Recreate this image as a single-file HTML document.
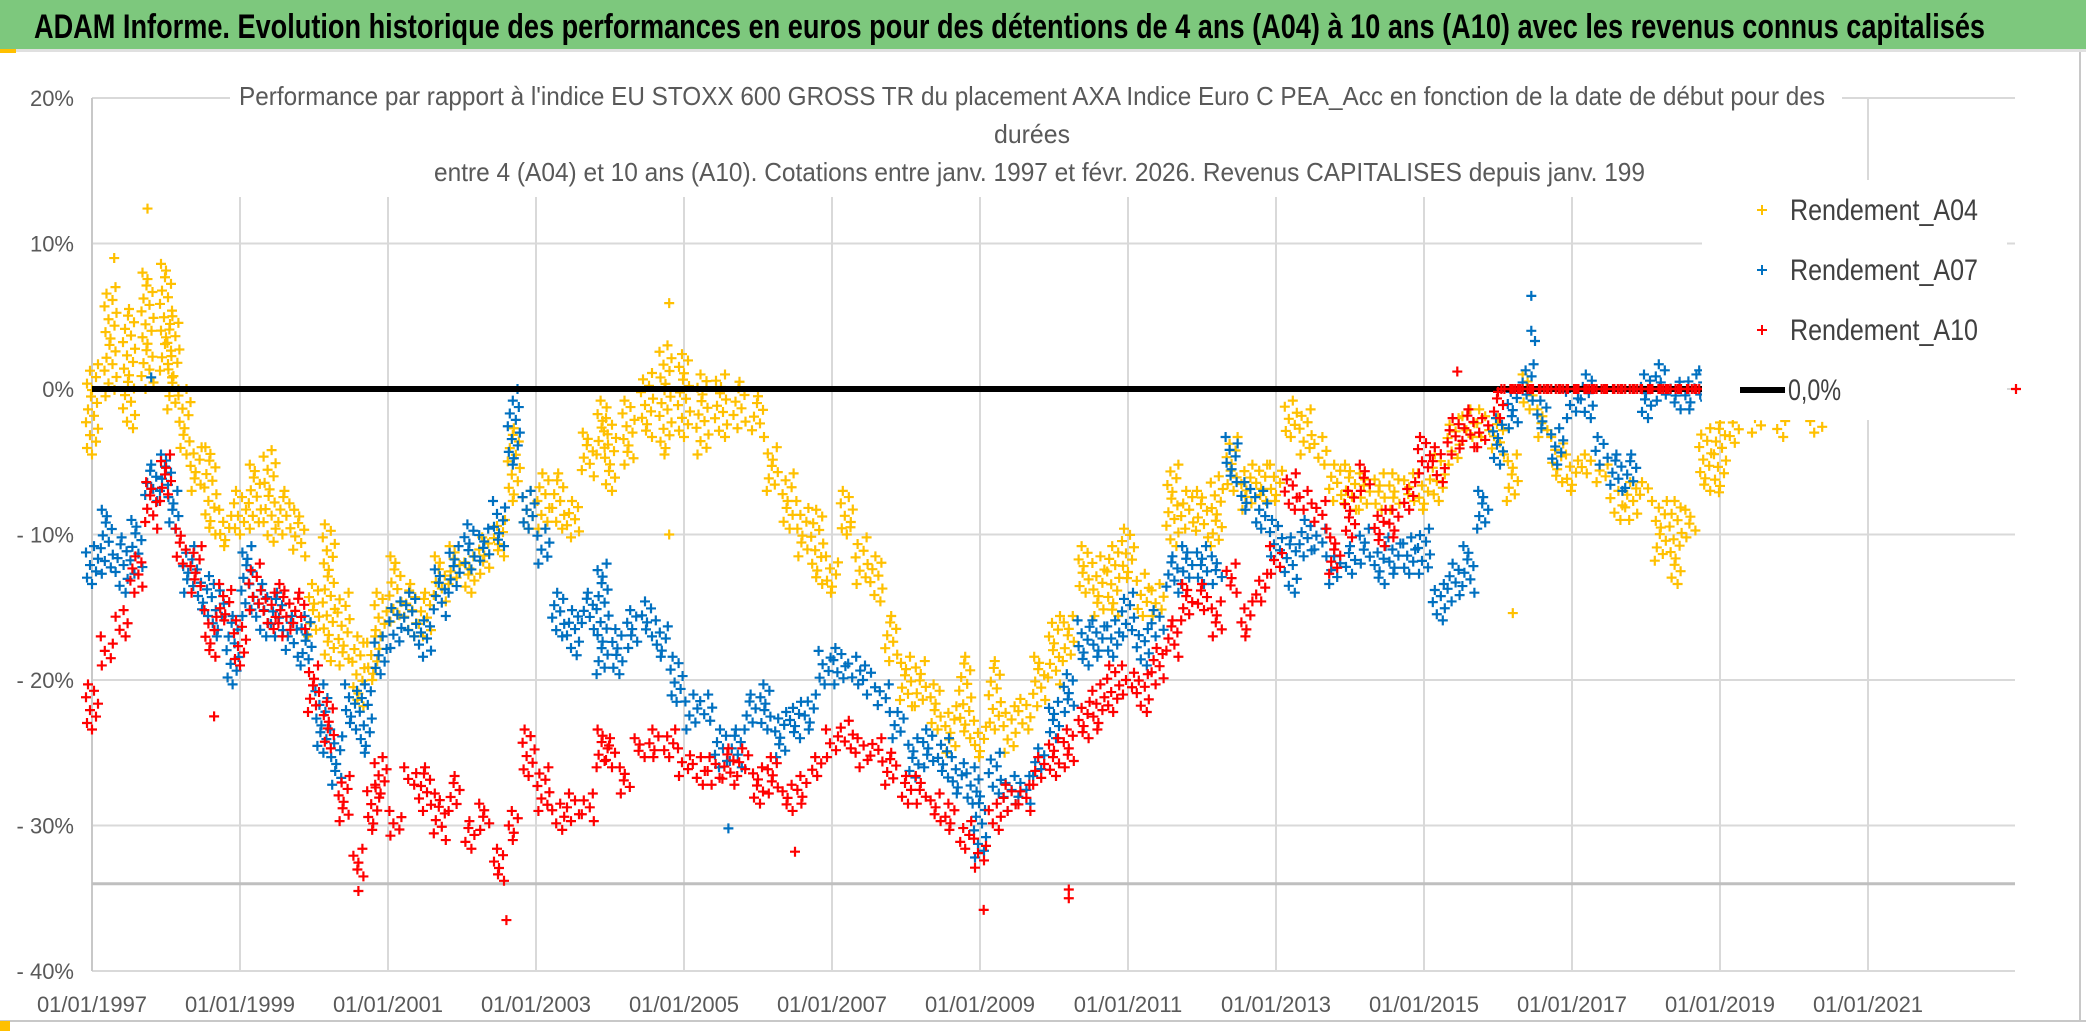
<!DOCTYPE html>
<html><head><meta charset="utf-8"><style>
html,body{margin:0;padding:0;background:#fff;}
svg{display:block;}
text{font-family:"Liberation Sans",sans-serif;}
</style></head><body>
<svg id="chart" width="2086" height="1031" viewBox="0 0 2086 1031">
<rect x="0" y="0" width="2086" height="1031" fill="#fff"/>
<rect x="0" y="0" width="2086" height="49" fill="#7dc87d"/>
<rect x="0" y="49" width="2086" height="3" fill="#e0e0e0"/>
<rect x="0" y="49" width="16" height="4" fill="#ffc000"/>
<text x="34" y="38" font-size="34" font-weight="bold" fill="#000" textLength="1951" lengthAdjust="spacingAndGlyphs">ADAM Informe. Evolution historique des performances en euros pour des détentions de 4 ans (A04) à 10 ans (A10) avec les revenus connus capitalisés</text>
<line x1="2080" y1="52" x2="2080" y2="1020" stroke="#c8c8c8" stroke-width="2"/>
<line x1="0" y1="1021" x2="2086" y2="1021" stroke="#c8c8c8" stroke-width="2"/>
<rect x="0" y="1021" width="10" height="10" fill="#ffc000"/>
<g id="grid"></g>
<g id="marks"></g>
<rect x="230" y="70" width="1612" height="127" fill="#fff"/>
<text x="239" y="105" font-size="26" fill="#595959" textLength="1586" lengthAdjust="spacingAndGlyphs">Performance par rapport à l'indice EU STOXX 600 GROSS TR  du placement AXA Indice Euro C PEA_Acc en fonction de la date de début pour des</text>
<text x="1032" y="143" font-size="26" fill="#595959" text-anchor="middle" textLength="76" lengthAdjust="spacingAndGlyphs">durées</text>
<text x="434" y="181" font-size="26" fill="#595959" textLength="1211" lengthAdjust="spacingAndGlyphs">entre 4 (A04) et 10 ans (A10). Cotations entre janv. 1997 et févr. 2026. Revenus CAPITALISES depuis janv. 199</text>
<g id="legend">
<rect x="1702" y="180" width="305" height="240" fill="#fff"/>
<g><path d="M1757 210h10M1762 205v10" stroke="#ffc000" stroke-width="2"/><text x="1790" y="220" font-size="30" fill="#404040" textLength="188" lengthAdjust="spacingAndGlyphs">Rendement_A04</text></g>
<g><path d="M1757 270h10M1762 265v10" stroke="#0070c0" stroke-width="2"/><text x="1790" y="280" font-size="30" fill="#404040" textLength="188" lengthAdjust="spacingAndGlyphs">Rendement_A07</text></g>
<g><path d="M1757 330h10M1762 325v10" stroke="#ff0000" stroke-width="2"/><text x="1790" y="340" font-size="30" fill="#404040" textLength="188" lengthAdjust="spacingAndGlyphs">Rendement_A10</text></g>
<g><line x1="1740" y1="390" x2="1785" y2="390" stroke="#000" stroke-width="6"/><text x="1788" y="400" font-size="30" fill="#404040" textLength="53" lengthAdjust="spacingAndGlyphs">0,0%</text></g>
</g>
</svg>
<script>
// axis config (data)
const yTicks = [20, 10, 0, -10, -20, -30, -40];
const yTickLabels = ["20%", "10%", "0%", "- 10%", "- 20%", "- 30%", "- 40%"];
const xTickYears = [1997,1999,2001,2003,2005,2007,2009,2011,2013,2015,2017,2019,2021];
const xTickLabels = ["01/01/1997","01/01/1999","01/01/2001","01/01/2003","01/01/2005","01/01/2007","01/01/2009","01/01/2011","01/01/2013","01/01/2015","01/01/2017","01/01/2019","01/01/2021"];
const refLineValue = -34;
const zeroLineValue = 0;

// A04 : [year, low %, high %]
const a04Years = [1997.0,1997.25,1997.5,1997.75,1998.0,1998.1,1998.25,1998.4,1998.6,1998.8,1999.0,1999.2,1999.4,1999.6,1999.8,2000.0,2000.2,2000.4,2000.6,2000.8,2000.9,2001.1,2001.3,2001.5,2001.7,2001.9,2002.1,2002.3,2002.5,2002.7,2002.9,2003.1,2003.3,2003.5,2003.7,2003.9,2004.0,2004.25,2004.5,2004.75,2005.0,2005.25,2005.5,2005.75,2006.0,2006.2,2006.4,2006.6,2006.8,2007.0,2007.2,2007.4,2007.6,2007.8,2008.0,2008.2,2008.4,2008.6,2008.8,2009.0,2009.2,2009.4,2009.6,2009.8,2010.0,2010.2,2010.4,2010.6,2010.8,2011.0,2011.2,2011.4,2011.6,2011.8,2012.0,2012.2,2012.4,2012.6,2012.8,2013.0,2013.2,2013.4,2013.6,2013.8,2014.0,2014.2,2014.4,2014.6,2014.8,2015.0,2015.2,2015.4,2015.6,2015.8,2016.0,2016.2,2016.4,2016.6,2016.8,2017.0,2017.2,2017.4,2017.6,2017.8,2018.0,2018.2,2018.4,2018.6,2018.8,2019.0,2019.2,2019.5,2019.8,2020.3];
const a04Low = [-4.5,-0.5,-2.7,0,0.8,-1.4,-4.5,-7,-10,-10.8,-10,-9.6,-10.5,-10,-11.5,-17,-18.7,-19,-21.8,-20,-17,-16,-17,-17,-14.6,-13.4,-14,-12.7,-11.5,-7.7,-9.6,-9.6,-9.6,-10.2,-6,-4.5,-7,-5.2,-3.3,-4.5,-3.3,-4.5,-3.3,-2.7,-3.3,-7,-9.6,-11.5,-13.4,-14,-10,-13.4,-14.6,-18.7,-21.8,-21.8,-23.4,-25,-24,-25.3,-23.4,-25,-23.4,-21.8,-20.3,-18.7,-14,-15.6,-15.6,-13,-15.6,-15.6,-10.8,-9.6,-10.2,-10.8,-7,-8.3,-7.7,-7.7,-3.3,-4.5,-5.2,-7.7,-8.3,-8.3,-8.3,-8.3,-7.7,-8.3,-7.7,-5.2,-3.3,-3.3,-4.5,-7.7,-1.4,-3.3,-6.4,-7,-5.8,-6.4,-9,-9,-7.7,-11.8,-13.4,-10.2,-7,-7.1,-3.7,-3,-3.3,-3];
const a04High = [1.7,7,5.5,8,8.6,5,0,-4,-4,-8.3,-7,-5.2,-4.2,-7,-8.3,-13.4,-9.3,-14,-17,-17,-14,-11.5,-13.4,-14,-11.5,-10.8,-11.5,-10.2,-9,-2.7,-7,-5.8,-5.8,-7.7,-3,-0.8,-2,-0.8,1.1,3,2.4,1,1,0.5,-0.5,-4,-5.8,-7.7,-8.3,-11.5,-7,-10.2,-11.5,-15.6,-18.4,-18.7,-20.3,-21.8,-18.4,-22.8,-18.7,-21.8,-21.3,-18.4,-15.6,-15.6,-10.8,-11.5,-10.8,-9.6,-12.7,-13.4,-5.2,-7,-7,-6,-3.3,-5.2,-5.2,-5.2,-0.8,-1.4,-3.3,-5.2,-5.2,-5.8,-5.8,-5.8,-5.8,-5.8,-4.5,-2,-1.4,-1.4,-2,-4.5,1,-1.4,-3.3,-4.5,-4.5,-5.2,-7,-6.4,-6.4,-7.7,-7.7,-8.3,-2.7,-2.3,-2.3,-2,-2.2,-2.2];
const a04OutYears = [1997.75,1997.3,2004.8,2004.8,2016.2,2007.25];
const a04OutValues = [12.4,9,5.9,-10,-15.4,-9.5];

// A07
const a07Years = [1997.0,1997.2,1997.4,1997.6,1997.8,1998.0,1998.1,1998.3,1998.5,1998.7,1998.9,1999.1,1999.3,1999.5,1999.7,1999.9,2000.1,2000.3,2000.5,2000.7,2000.9,2001.1,2001.3,2001.5,2001.7,2001.9,2002.1,2002.3,2002.5,2002.7,2002.9,2003.1,2003.3,2003.5,2003.7,2003.9,2004.1,2004.3,2004.5,2004.7,2004.9,2005.1,2005.3,2005.5,2005.7,2005.9,2006.1,2006.3,2006.5,2006.7,2006.9,2007.1,2007.3,2007.5,2007.7,2007.9,2008.1,2008.3,2008.5,2008.7,2008.9,2009.0,2009.2,2009.4,2009.6,2009.8,2010.0,2010.2,2010.4,2010.6,2010.8,2011.0,2011.2,2011.4,2011.6,2011.8,2012.0,2012.2,2012.4,2012.6,2012.8,2013.0,2013.2,2013.4,2013.6,2013.8,2014.0,2014.2,2014.4,2014.6,2014.8,2015.0,2015.2,2015.4,2015.6,2015.8,2016.0,2016.2,2016.4,2016.6,2016.8,2017.0,2017.2,2017.4,2017.6,2017.8,2018.0,2018.2,2018.4,2018.6,2018.8];
const a07Low = [-13.4,-12.7,-14,-12.7,-7.7,-7,-9.6,-14,-15.6,-17,-20.3,-15.6,-17,-17,-18.4,-19,-25,-27.2,-23.4,-25,-19.6,-17.8,-17,-18.4,-15.6,-14,-12.4,-11.8,-10.8,-5.2,-9.6,-12,-17,-17.8,-16.5,-19.6,-19.6,-17.8,-17,-18.4,-21.5,-23.4,-22.8,-26,-26,-23.4,-23.4,-25.3,-24,-23.4,-20.3,-20.3,-20.3,-21,-22.2,-24,-26.7,-26,-26.7,-27.8,-28.5,-32.2,-27.8,-29,-28.5,-26.6,-24,-22.2,-19,-18.4,-18.4,-17,-19,-17,-14,-13.4,-13.4,-13.4,-6.4,-8.3,-9.6,-11.5,-14,-11.5,-11.5,-13.4,-12.7,-12,-13.4,-12.7,-12.7,-12.7,-15.9,-14.6,-14,-9.6,-5.2,-2.7,-0.8,-2.7,-5.2,-2,-2,-5.2,-7,-6.8,-2,-0.8,-1.4,-1.4,-0.8];
const a07High = [-10.8,-8.3,-10.2,-9,-5.2,-4.5,-7,-10.8,-12.4,-13.4,-15.6,-10.8,-13.4,-14,-15.6,-15.6,-20.3,-23.4,-20.3,-20.3,-17,-14.6,-14,-15.9,-12.4,-10.8,-9.3,-9.6,-7.7,-0.8,-7,-9.6,-14,-15.2,-14,-12,-16.5,-15.2,-14.6,-15.9,-18.4,-21,-21,-23.4,-23.4,-21,-20.3,-22.2,-21.5,-21,-18,-17.8,-18.4,-19,-20.3,-22.2,-24,-23.4,-24,-25.3,-26,-28,-25,-26.6,-26.6,-24.7,-21.5,-19.6,-15.9,-15.9,-15.9,-14,-16.5,-15.2,-11.5,-10.8,-10.8,-11.5,-3.3,-6.4,-7,-9,-10.2,-9,-9.6,-11.5,-10.8,-9.6,-10.8,-10.2,-10.2,-9.6,-13.4,-12,-10.8,-7,-2,-0.2,1.7,-0.8,-2.7,-0.2,1,-3.3,-4.5,-4.5,1,1.7,0.5,1,1.7];
const a07OutYears = [1997.8,2002.75,2003.55,2016.45,2016.45,2016.5,2005.6];
const a07OutValues = [0.8,0,-18.3,6.4,4,3.3,-30.2];

// A10
const a10Years = [1997.0,1997.2,1997.4,1997.6,1997.8,1998.0,1998.2,1998.4,1998.6,1998.8,1999.0,1999.2,1999.4,1999.6,1999.8,2000.0,2000.2,2000.4,2000.6,2000.8,2000.9,2001.1,2001.3,2001.5,2001.7,2001.9,2002.1,2002.3,2002.5,2002.7,2002.9,2003.1,2003.3,2003.5,2003.7,2003.9,2004.0,2004.2,2004.4,2004.6,2004.8,2005.0,2005.2,2005.4,2005.6,2005.8,2006.0,2006.2,2006.4,2006.6,2006.8,2007.0,2007.2,2007.4,2007.6,2007.8,2008.0,2008.2,2008.4,2008.6,2008.8,2009.0,2009.2,2009.4,2009.6,2009.8,2010.0,2010.2,2010.4,2010.6,2010.8,2011.0,2011.2,2011.4,2011.6,2011.8,2012.0,2012.2,2012.4,2012.6,2012.8,2013.0,2013.2,2013.4,2013.6,2013.8,2014.0,2014.2,2014.4,2014.6,2014.8,2015.0,2015.2,2015.4,2015.6,2015.8,2016.0,2016.1,2016.2,2016.3,2016.4,2016.5,2016.6,2016.7,2016.8,2016.9,2017.0,2017.1,2017.2,2017.3,2017.4,2017.5,2017.6,2017.7,2017.8,2017.9,2018.0,2018.1,2018.2,2018.3,2018.4,2018.5,2018.6,2018.7,2018.8,2018.9,2019.0];
const a10Low = [-23.4,-19,-17,-14,-9.6,-7.7,-12,-14,-18.4,-15.9,-19,-15.2,-16.5,-17,-16.5,-22.2,-24.7,-29.7,-33.5,-30.3,-27.8,-30.7,-27.2,-29,-31,-29,-31.6,-30.3,-33.8,-31,-26.6,-29,-30.3,-29.7,-29.7,-26,-26,-27.8,-25.3,-25.3,-25.3,-26.6,-27.2,-27.2,-27.2,-26.6,-28.5,-27.8,-29,-28.5,-26.6,-25.3,-24.7,-26,-25.6,-27.2,-28.5,-28.5,-29.7,-30.3,-31.6,-32.9,-30.3,-29,-29,-27.2,-26.6,-26,-24,-23.4,-22.2,-21,-22.2,-20.3,-18.4,-15.9,-15.2,-17,-14,-17,-14.6,-12.7,-8.3,-8.3,-9.6,-12.7,-10.2,-7,-10.8,-10.2,-8.3,-5.8,-6.4,-4.5,-4,-4,-2,0,0,0,0,0,0,0,0,0,0,0,0,0,0,0,0,0,0,0,0,0,0,0,0,0,0,0,0,0,0];
const a10High = [-20.3,-17,-15.2,-11.5,-6.4,-4.5,-9.6,-10.8,-15.2,-13.4,-15.9,-12,-14,-13.4,-14,-19,-21.5,-26.6,-31.6,-27.2,-25.3,-29,-26,-26,-27.8,-26.6,-29.7,-28.5,-31.6,-29,-23.4,-26,-28.5,-27.8,-27.8,-23.4,-24,-26,-24,-23.4,-23.4,-24.7,-25.3,-25.3,-24.7,-24.7,-26,-25.3,-27.2,-26.6,-25.3,-23.4,-22.8,-24,-24,-25,-26.6,-26.6,-27.8,-28.5,-29.7,-30.9,-28.5,-27.2,-27.2,-25.3,-24,-23.4,-21.5,-20.3,-19,-19,-19.6,-17.8,-15.9,-13.4,-13.4,-14.6,-12,-14.6,-12.7,-10.8,-5.8,-7,-7.7,-10.2,-7,-5.2,-8.3,-8.3,-6.4,-3.3,-4,-2,-1.4,-2,-0.2,0,0,0,0,0,0,0,0,0,0,0,0,0,0,0,0,0,0,0,0,0,0,0,0,0,0,0,0,0,0];
const a10OutYears = [2009.05,2010.2,2010.2,2002.6,2000.6,2015.45,2023.0,1998.65,2006.5];
const a10OutValues = [-35.8,-35,-34.4,-36.5,-34.5,1.2,0,-22.5,-31.8];

const NS = "http://www.w3.org/2000/svg";
const plotLeft = 92, plotRight = 2015, plotTop = 98, plotBottom = 971;
const yearStart = 1997, pxPerYear = 74;
const jitterPattern = [0, -5, 4, -2, 6, -6, 2, -4, 5, -1];
function xScale(yr){ return plotLeft + (yr - yearStart) * pxPerYear; }
function yScale(v){ return 389 - v * 14.55; }

const grid = document.getElementById('grid');
const marks = document.getElementById('marks');
function mk(tag, attrs, parent){
  const e = document.createElementNS(NS, tag);
  for (const k in attrs) e.setAttribute(k, attrs[k]);
  parent.appendChild(e);
  return e;
}
yTicks.forEach((t, i) => {
  const y = yScale(t);
  const gl = mk('line', {x1: plotLeft, x2: plotRight, y1: y, y2: y, stroke: '#d9d9d9', 'stroke-width': 2}, grid);
  
  
  const tx = mk('text', {x: 74, y: y + 8, 'font-size': 22, fill: '#595959', 'text-anchor': 'end'}, grid);
  tx.textContent = yTickLabels[i];
  
  
});
xTickYears.forEach((yr, i) => {
  const x = xScale(yr);
  const gl = mk('line', {x1: x, x2: x, y1: plotTop, y2: plotBottom, stroke: i === 0 ? '#c8c8c8' : '#d9d9d9', 'stroke-width': 2}, grid);
  
  
  const tx = mk('text', {x: x, y: 1012, 'font-size': 22, fill: '#595959', 'text-anchor': 'middle'}, grid);
  tx.textContent = xTickLabels[i];
  
  
});
const rl = mk('line', {x1: plotLeft, x2: plotRight, y1: yScale(refLineValue), y2: yScale(refLineValue), stroke: '#bfbfbf', 'stroke-width': 3}, grid);



function plus(x, y, color, g){
  return mk('path', {d: `M${x-5} ${y}h10M${x} ${y-5}v10`, stroke: color, 'stroke-width': 2.2, fill: 'none'}, g);
}
function drawSeries(name, years, low, high, outY, outV, color){
  const g = mk('g', {}, marks);
  
  
  years.forEach((yr, i) => {
    const lo = low[i], hi = high[i];
    const n = Math.max(2, Math.round((hi - lo) / 0.45));
    for (let k = 0; k <= n; k++) {
      const v = lo + (hi - lo) * k / n;
      const x = xScale(yr) + jitterPattern[(k + i) % jitterPattern.length];
      const p = plus(x, yScale(v), color, g);
      
      
    }
  });
  outY.forEach((yr, i) => {
    const p = plus(xScale(yr), yScale(outV[i]), color, g);
    
    
  });
}
drawSeries('series-a04', a04Years, a04Low, a04High, a04OutYears, a04OutValues, '#ffc000');
drawSeries('series-a07', a07Years, a07Low, a07High, a07OutYears, a07OutValues, '#0070c0');
const zl = mk('line', {x1: plotLeft, x2: 1702, y1: yScale(zeroLineValue), y2: yScale(zeroLineValue), stroke: '#000', 'stroke-width': 6}, marks);


drawSeries('series-a10', a10Years, a10Low, a10High, a10OutYears, a10OutValues, '#ff0000');
</script>
</body></html>
